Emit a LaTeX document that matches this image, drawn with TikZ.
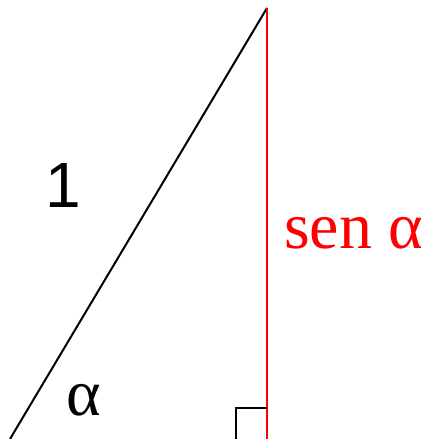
\documentclass[tikz,border=0pt]{standalone}
\usepackage{fontspec}
\setmainfont{Liberation Serif}
\setsansfont{Liberation Sans}
\begin{document}
\begin{tikzpicture}[
      x=1pt, y=-1pt,
      side/.style={line width=2pt},
      lbl/.style={anchor=base, inner sep=0pt, font=\rmfamily\fontsize{66}{66}\selectfont},
    ]
      \useasboundingbox (0,0) rectangle (428,439);

      % vertices
      \coordinate (A) at (10,439);
      \coordinate (B) at (267,439);
      \coordinate (C) at (267,8);

      % sides
      \draw[side] (A) -- (C);
      \draw[side, draw=red] (B) -- (C);
      \draw[side] ([xshift=-31pt]B) -- ++(0,-31) -- ++(31,0);

      % labels
      \node[lbl, font=\sffamily\fontsize{64}{64}\selectfont] (hyp) at (63,207) {1};
      \node[lbl, anchor=base west, text=red] (opp) at (284,248) {sen α};
      \node[lbl] (ang) at (84,415) {α};
    \end{tikzpicture}
\end{document}
